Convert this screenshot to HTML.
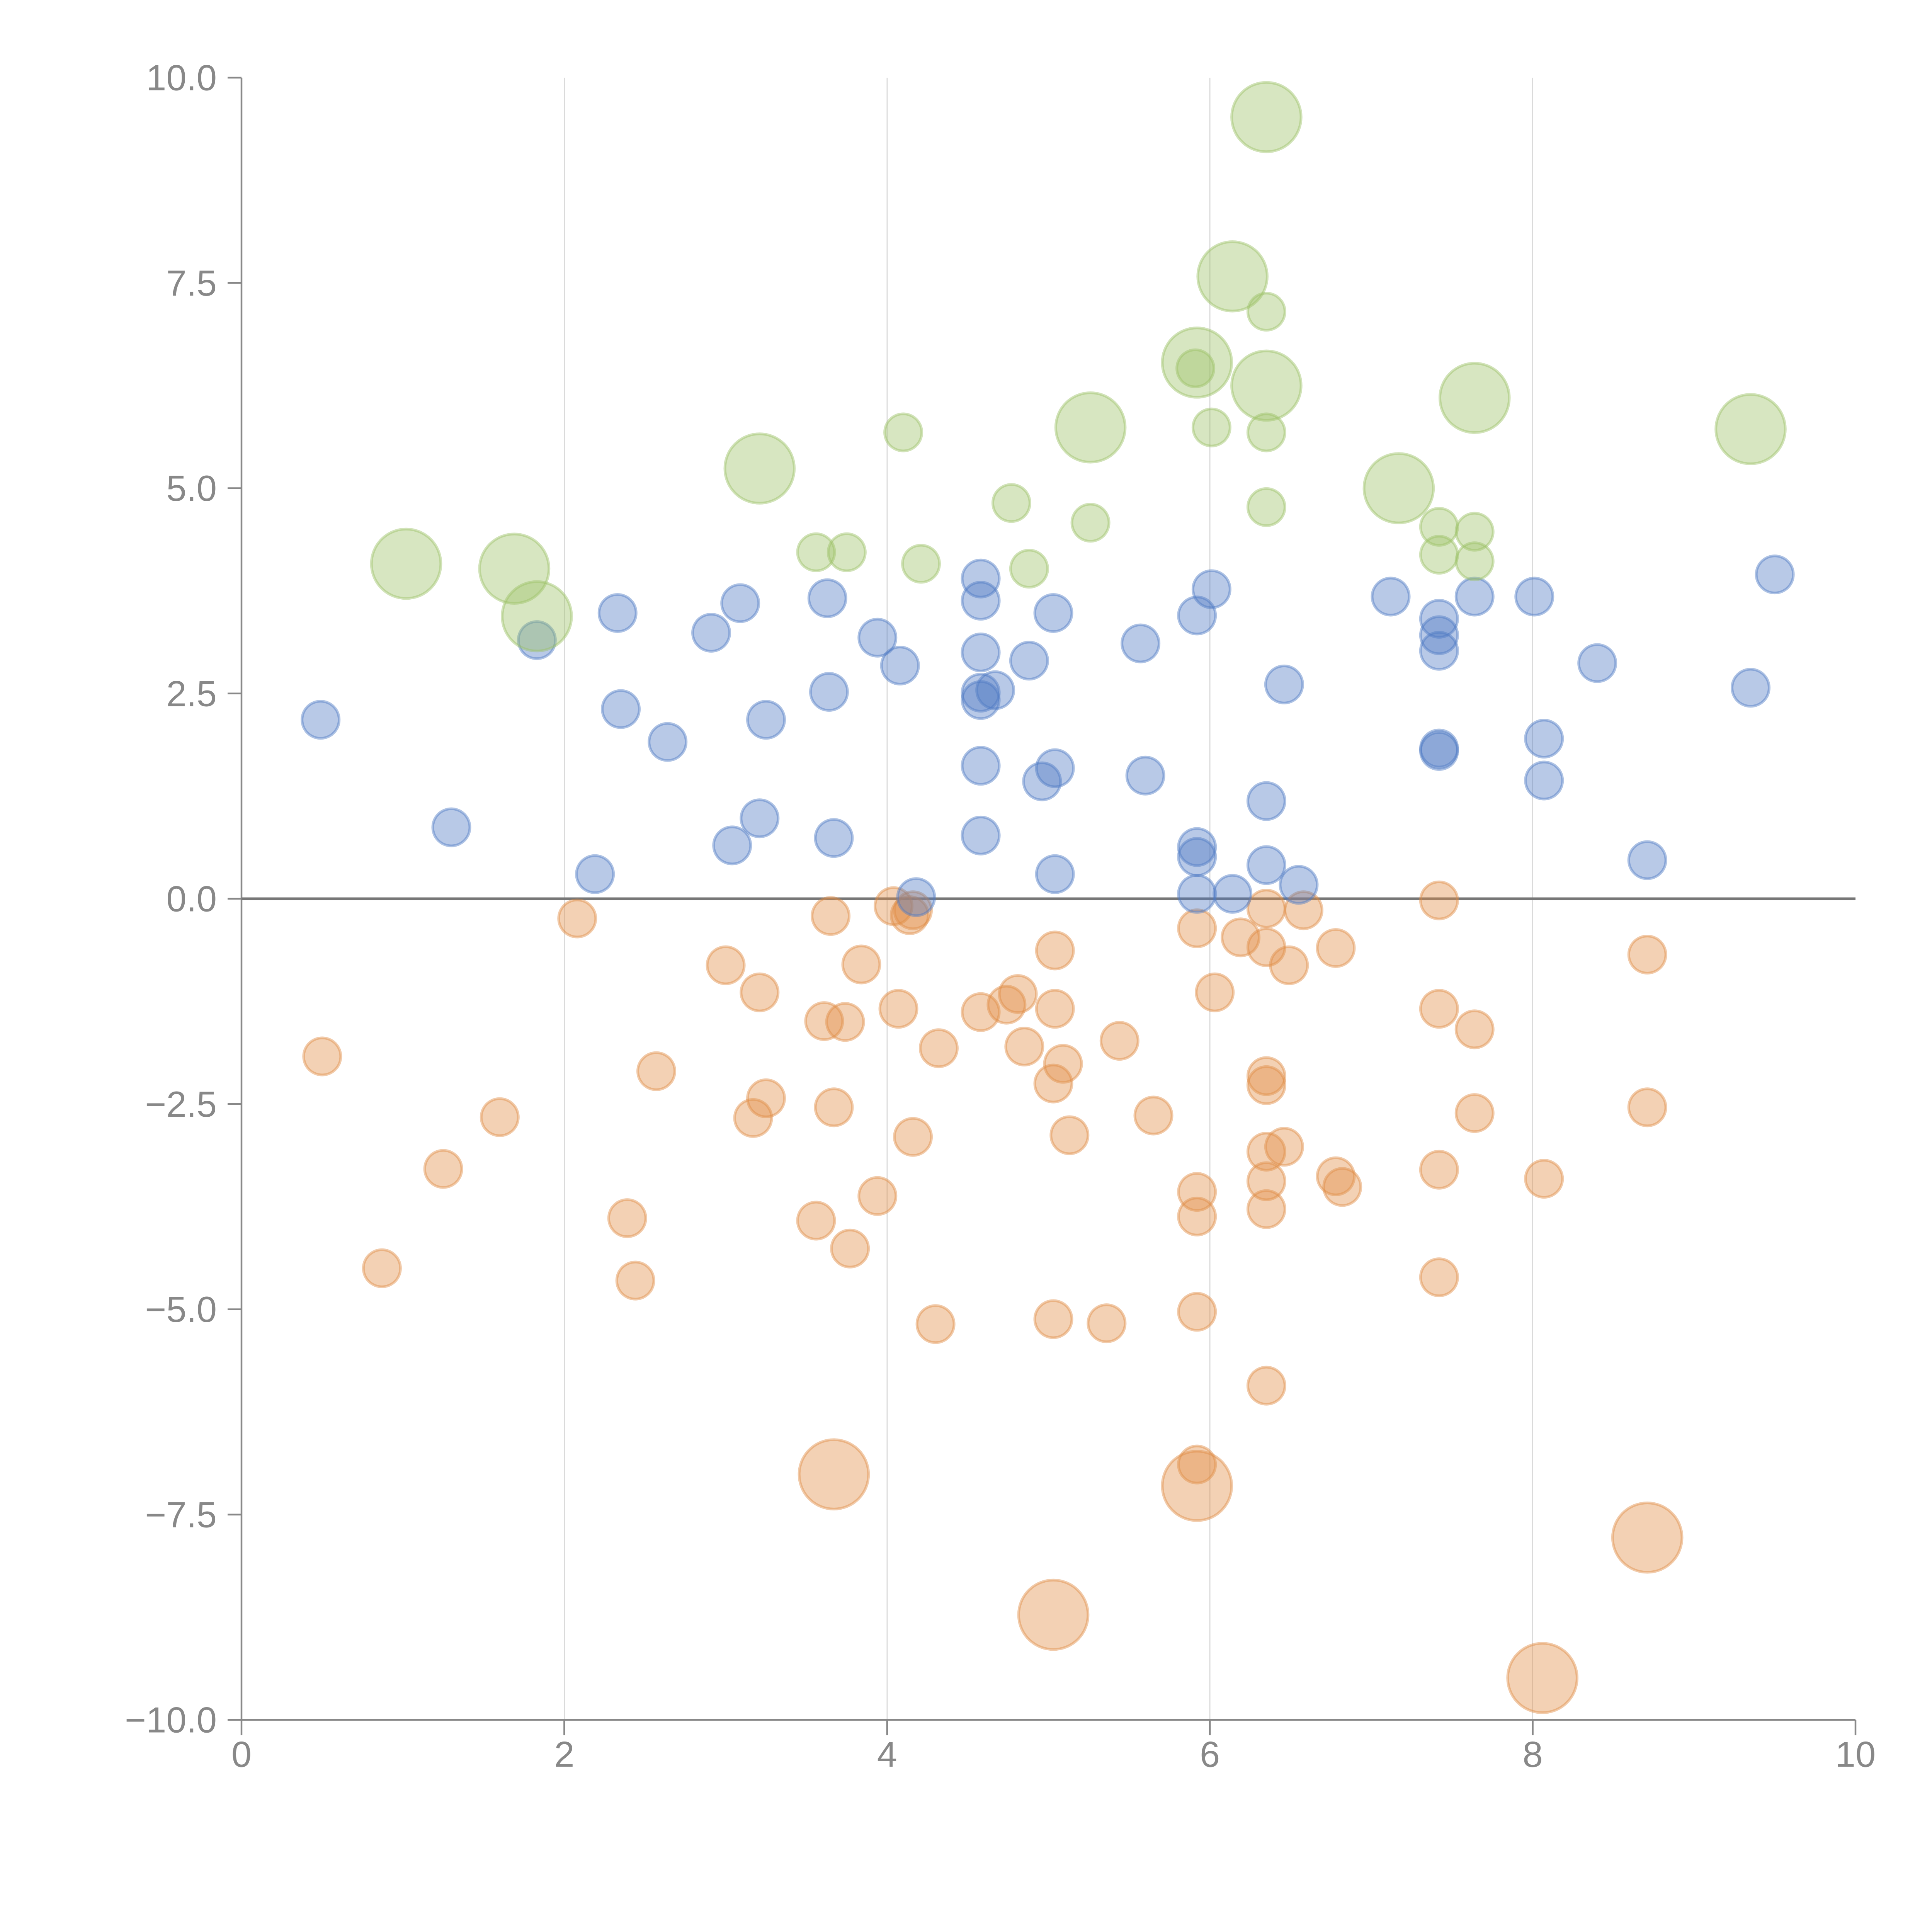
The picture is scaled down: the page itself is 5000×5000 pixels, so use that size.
<!DOCTYPE html>
<html><head><meta charset="utf-8"><style>html,body{margin:0;padding:0;background:#fff}svg{display:block}</style></head>
<body>
<svg id="chart" width="5000" height="5000" viewBox="0 0 5000 5000" xmlns="http://www.w3.org/2000/svg">
<g id="grid"></g>
<g id="axes"></g>
<g id="marks"></g>
</svg>
<script>
const xTicks = [0, 2, 4, 6, 8, 10];
const yTicks = [10, 7.5, 5, 2.5, 0, -2.5, -5, -7.5, -10];
const gridX = [2, 4, 6, 8];

const greenX = [6.35,6.14,6.35,5.92,5.91,6.35,7.64,5.26,6.01,6.35,4.10,9.35,3.21,7.17,4.77,6.35,5.26,7.42,7.64,3.56,3.75,7.42,7.64,4.21,4.88,1.02,1.69,1.83];
const greenY = [9.52,7.58,7.15,6.53,6.46,6.25,6.10,5.74,5.74,5.68,5.68,5.72,5.24,5.00,4.82,4.77,4.58,4.53,4.47,4.22,4.22,4.19,4.11,4.08,4.02,4.08,4.02,3.44];
const greenS = [3.5,3.5,1,3.5,1,3.5,3.5,3.5,1,1,1,3.5,3.5,3.5,1,1,1,1,1,1,1,1,1,1,1,3.5,3.5,3.5];

const blueX = [0.49,1.30,1.83,2.19,2.33,2.35,2.64,2.91,3.04,3.09,3.21,3.25,3.63,3.64,3.67,3.94,4.08,4.18,4.58,4.58,4.58,4.58,4.58,4.67,4.58,4.58,4.88,4.96,5.04,5.03,5.04,5.57,5.60,5.92,6.01,5.92,5.92,5.92,6.14,6.35,6.35,6.55,6.46,7.12,7.42,7.42,7.42,7.42,7.42,7.64,8.01,8.07,8.07,8.40,8.71,9.35,9.50];
const blueY = [2.18,0.87,3.15,0.30,3.48,2.31,1.91,3.24,0.65,3.60,0.98,2.18,3.66,2.52,0.74,3.18,2.84,0.02,3.90,3.63,3.00,2.51,2.42,2.54,1.62,0.77,2.90,1.43,1.59,3.48,0.30,3.11,1.50,3.45,3.77,0.63,0.51,0.06,0.06,1.19,0.41,0.17,2.61,3.68,3.41,3.21,3.02,1.83,1.80,3.68,3.68,1.95,1.44,2.87,0.47,2.57,3.95];

const orangeX = [0.50,0.87,1.25,1.60,2.08,2.39,2.44,2.57,3.00,3.21,3.17,3.25,3.56,3.61,3.65,3.67,3.74,3.77,3.84,3.94,4.04,4.07,4.14,4.16,4.16,4.30,4.32,4.58,4.74,4.81,4.85,5.04,5.04,5.09,5.03,5.13,5.03,5.36,5.44,5.65,5.92,5.92,5.92,5.92,5.92,6.03,6.19,6.35,6.35,6.35,6.35,6.35,6.35,6.35,6.35,6.46,6.49,6.58,6.78,6.78,6.82,7.42,7.42,7.42,7.42,7.64,7.64,8.07,8.71,8.71,3.67,5.92,5.03,8.71,8.06];
const orangeY = [-1.92,-4.50,-3.29,-2.66,-0.24,-3.89,-4.65,-2.10,-0.81,-1.14,-2.67,-2.43,-3.92,-1.49,-0.21,-2.54,-1.50,-4.26,-0.80,-3.62,-0.09,-1.34,-0.20,-0.14,-2.90,-5.18,-1.82,-1.38,-1.29,-1.16,-1.80,-0.63,-1.34,-2.01,-2.25,-2.88,-5.12,-5.17,-1.73,-2.64,-0.36,-3.57,-3.87,-5.03,-6.89,-1.14,-0.47,-0.12,-0.59,-2.16,-2.27,-3.08,-3.44,-3.78,-5.93,-3.02,-0.81,-0.14,-0.60,-3.38,-3.51,-0.02,-1.34,-3.30,-4.61,-1.59,-2.61,-3.41,-0.68,-2.54,-7.01,-7.15,-8.72,-7.78,-9.49];
const orangeS = orangeX.map((_, i) => i >= 70 ? 3.5 : 1);
const blueS = blueX.map(() => 1);

const X0 = 625, X1 = 4802, Y0 = 4451, Y1 = 201;
const sx = v => X0 + (v - 0) / 10 * (X1 - X0);
const sy = v => Y0 - (v + 10) / 20 * (Y0 - Y1);
const sr = s => 48 * Math.sqrt(s);
const NS = 'http://www.w3.org/2000/svg';
function mk(tag, attrs, parent) {
  const e = document.createElementNS(NS, tag);
  for (const k in attrs) e.setAttribute(k, attrs[k]);
  parent.appendChild(e);
  return e;
}
const grid = document.getElementById('grid');
const axes = document.getElementById('axes');
const marks = document.getElementById('marks');

gridX.forEach(v => {
  const l = mk('line', {x1: sx(v), x2: sx(v), y1: Y1, y2: Y0, stroke: '#d4d4d4', 'stroke-width': 2.5}, grid);
  
  
});

const ya = mk('line', {x1: X0, x2: X0, y1: Y1, y2: Y0, stroke: '#888', 'stroke-width': 4.5}, axes);


const xa = mk('line', {x1: X0, x2: X1, y1: Y0, y2: Y0, stroke: '#888', 'stroke-width': 4.5}, axes);



yTicks.forEach(v => {
  const t = mk('line', {x1: X0 - 36, x2: X0, y1: sy(v), y2: sy(v), stroke: '#888', 'stroke-width': 4.5}, axes);
  
  
  const tx = mk('text', {x: X0 - 64, y: sy(v), 'text-anchor': 'end', 'dominant-baseline': 'central', fill: '#888', 'font-size': 94, 'font-family': 'Liberation Sans, sans-serif'}, axes);
  tx.textContent = (v < 0 ? '\u2212' : '') + Math.abs(v).toFixed(1);
  
  
});
xTicks.forEach(v => {
  const t = mk('line', {x1: sx(v), x2: sx(v), y1: Y0, y2: Y0 + 40, stroke: '#888', 'stroke-width': 4.5}, axes);
  
  
  const tx = mk('text', {x: sx(v), y: 4540, 'text-anchor': 'middle', 'dominant-baseline': 'central', fill: '#888', 'font-size': 94, 'font-family': 'Liberation Sans, sans-serif'}, axes);
  tx.textContent = String(v);
  
  
});

const zl = mk('line', {x1: X0, x2: X1, y1: sy(0), y2: sy(0), stroke: '#777', 'stroke-width': 7}, axes);



function series(xs, ys, ss, color, name) {
  xs.forEach((x, i) => {
    const c = mk('circle', {cx: sx(x), cy: sy(ys[i]), r: sr(ss[i]), fill: color, 'fill-opacity': 0.4, stroke: color, 'stroke-opacity': 0.45, 'stroke-width': 7}, marks);
    
    
  });
}
series(orangeX, orangeY, orangeS, '#e08c44', 'orange-bubble');
series(blueX, blueY, blueS, '#4e79c4', 'blue-bubble');
series(greenX, greenY, greenS, '#9bc165', 'green-bubble');
</script>
</body></html>
